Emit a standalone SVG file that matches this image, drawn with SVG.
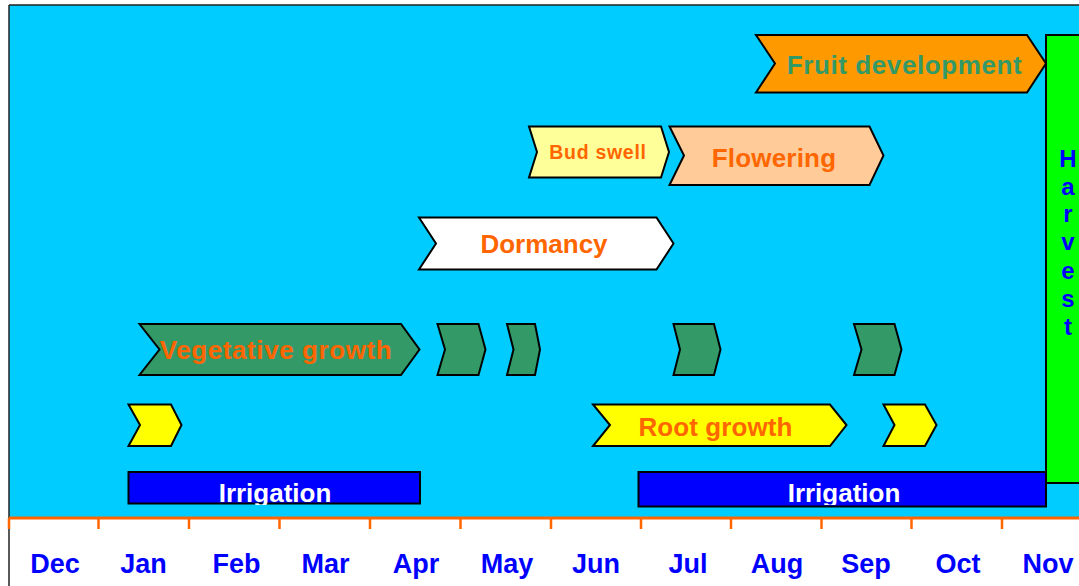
<svg xmlns="http://www.w3.org/2000/svg" width="1079" height="586" viewBox="0 0 1079 586">
  <defs>
    <style>
      .lbl { font-family: "Liberation Sans", Arial, sans-serif; font-weight: bold; }
      .chev { stroke: #000; stroke-width: 2; stroke-linejoin: miter; }
      .green { fill: #339966; }
      .yellow { fill: #FFFF00; }
      .phase { fill: #FF6600; font-size: 26px; text-anchor: middle; }
      .month { fill: #0000FF; font-size: 27px; text-anchor: middle; }
      .irr { fill: #FFFFFF; font-size: 26px; text-anchor: middle; }
      .tick { stroke: #FF6600; stroke-width: 2.5; }
    </style>
    <clipPath id="barClip">
      <rect x="0" y="0" width="1079" height="505"/>
    </clipPath>
  </defs>

  <!-- background panel -->
  <rect x="0" y="0" width="1079" height="586" fill="#FFFFFF"/>
  <rect x="9" y="5" width="1075" height="512" fill="#00CCFF"/>
  <line x1="9" y1="5" x2="1079" y2="5" stroke="#222" stroke-width="1.5"/>
  <line x1="9" y1="5" x2="9" y2="586" stroke="#222" stroke-width="1.5"/>

  <!-- harvest column -->
  <g id="harvest">
    <rect x="1046" y="35" width="40" height="448" fill="#00FF00" stroke="#000" stroke-width="2"/>
    <g class="lbl" fill="#0000FF" font-size="24" text-anchor="middle">
      <text x="1068" y="166.5">H</text>
      <text x="1068" y="195">a</text>
      <text x="1068" y="222">r</text>
      <text x="1068" y="250">v</text>
      <text x="1068" y="278.5">e</text>
      <text x="1068" y="307">s</text>
      <text x="1068" y="335">t</text>
    </g>
  </g>

  <!-- fruit development -->
  <g id="fruit-development">
    <polygon class="chev" fill="#FF9900" points="756,35 1027,35 1046,63.5 1027,92.5 756,92.5 775,63.5"/>
    <text class="lbl" x="904.5" y="73.5" fill="#339966" font-size="26" text-anchor="middle" letter-spacing="0.6">Fruit development</text>
  </g>

  <!-- bud swell -->
  <g id="bud-swell">
    <polygon class="chev" fill="#FFFF99" points="529,126.5 661,126.5 669,152 661,177.5 529,177.5 537,152"/>
    <text class="lbl phase" x="598" y="158.5" letter-spacing="0.7" style="font-size:19.5px">Bud swell</text>
  </g>

  <!-- flowering -->
  <g id="flowering">
    <polygon class="chev" fill="#FFCC99" points="669.5,126.5 869.5,126.5 883.5,155.5 869.5,185 669.5,185 684,155.5"/>
    <text class="lbl phase" x="774" y="166.5" letter-spacing="0.2">Flowering</text>
  </g>

  <!-- dormancy -->
  <g id="dormancy">
    <polygon class="chev" fill="#FFFFFF" points="419,217.5 656.5,217.5 673.5,243.5 656.5,269.5 419,269.5 436,243.5"/>
    <text class="lbl phase" x="544" y="252.5">Dormancy</text>
  </g>

  <!-- vegetative growth flushes -->
  <g id="vegetative-growth">
    <polygon class="chev green" points="139.5,324 401,324 419.5,349.5 401,375 139.5,375 159.5,349.5"/>
    <text class="lbl phase" x="276" y="358.5" letter-spacing="0.6">Vegetative growth</text>
  </g>
  <g id="vegetative-flush-2">
    <polygon class="chev green" points="437.5,324 478.5,324 485.5,349.5 478.5,375 437.5,375 445,349.5"/>
  </g>
  <g id="vegetative-flush-3">
    <polygon class="chev green" points="507,324 535,324 540,349.5 535,375 507,375 513.5,349.5"/>
  </g>
  <g id="vegetative-flush-4">
    <polygon class="chev green" points="673.5,324 714,324 720.5,349.5 714,375 673.5,375 680,349.5"/>
  </g>
  <g id="vegetative-flush-5">
    <polygon class="chev green" points="854,324 894.5,324 901.5,349.5 894.5,375 854,375 861.5,349.5"/>
  </g>

  <!-- root growth flushes -->
  <g id="root-flush-1">
    <polygon class="chev yellow" points="128.5,404.5 171,404.5 181.5,425 171,446 128.5,446 140,425"/>
  </g>
  <g id="root-growth">
    <polygon class="chev yellow" points="593,404.5 830,404.5 846.5,425 830,446 593,446 610,425"/>
    <text class="lbl phase" x="715.5" y="436" letter-spacing="0.1">Root growth</text>
  </g>
  <g id="root-flush-3">
    <polygon class="chev yellow" points="883.5,404.5 925,404.5 936.5,425 925,446 883.5,446 894.5,425"/>
  </g>

  <!-- irrigation periods -->
  <g id="irrigation-1">
    <rect x="128.5" y="472" width="291.5" height="31.5" fill="#0000FF" stroke="#000" stroke-width="2"/>
    <text class="lbl irr" x="275" y="501.5" clip-path="url(#barClip)">Irrigation</text>
  </g>
  <g id="irrigation-2">
    <rect x="638.5" y="472" width="407.5" height="34.5" fill="#0000FF" stroke="#000" stroke-width="2"/>
    <text class="lbl irr" x="844" y="501.5" clip-path="url(#barClip)">Irrigation</text>
  </g>

  <!-- month axis -->
  <g id="axis">
    <line x1="9" y1="518" x2="1079" y2="518" stroke="#FF6600" stroke-width="3"/>
    <line class="tick" x1="9" y1="518" x2="9" y2="529"/>
    <line class="tick" x1="98.5" y1="518" x2="98.5" y2="529"/>
    <line class="tick" x1="189" y1="518" x2="189" y2="529"/>
    <line class="tick" x1="279.5" y1="518" x2="279.5" y2="529"/>
    <line class="tick" x1="370" y1="518" x2="370" y2="529"/>
    <line class="tick" x1="460.5" y1="518" x2="460.5" y2="529"/>
    <line class="tick" x1="551" y1="518" x2="551" y2="529"/>
    <line class="tick" x1="641" y1="518" x2="641" y2="529"/>
    <line class="tick" x1="731" y1="518" x2="731" y2="529"/>
    <line class="tick" x1="821.5" y1="518" x2="821.5" y2="529"/>
    <line class="tick" x1="911.5" y1="518" x2="911.5" y2="529"/>
    <line class="tick" x1="1002" y1="518" x2="1002" y2="529"/>
  </g>
  <g id="months" class="lbl">
    <text class="month" x="55" y="573">Dec</text>
    <text class="month" x="143.5" y="573">Jan</text>
    <text class="month" x="236.5" y="573">Feb</text>
    <text class="month" x="325.5" y="573">Mar</text>
    <text class="month" x="416" y="573">Apr</text>
    <text class="month" x="507" y="573">May</text>
    <text class="month" x="596" y="573">Jun</text>
    <text class="month" x="688" y="573">Jul</text>
    <text class="month" x="777" y="573">Aug</text>
    <text class="month" x="866" y="573">Sep</text>
    <text class="month" x="958" y="573">Oct</text>
    <text class="month" x="1048" y="573">Nov</text>
  </g>
</svg>
